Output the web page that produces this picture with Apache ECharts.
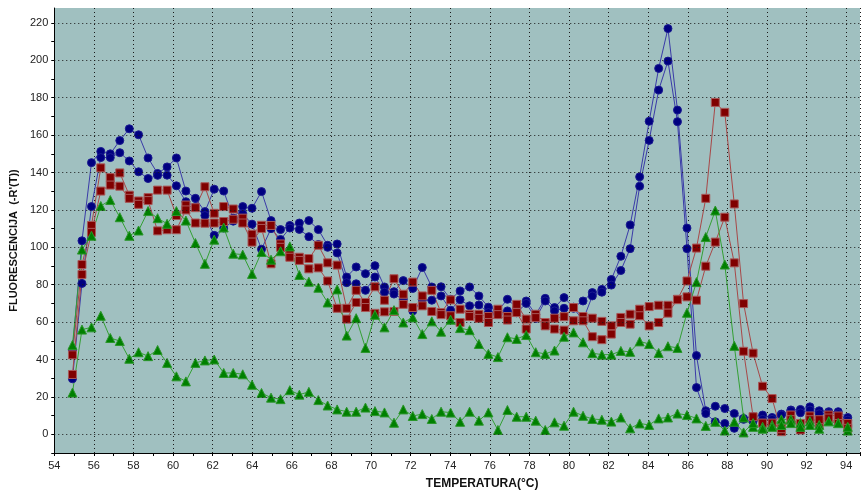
<!DOCTYPE html>
<html><head><meta charset="utf-8">
<script src="https://cdn.jsdelivr.net/npm/echarts@6/dist/echarts.min.js"></script>
<style>html,body{margin:0;padding:0;background:#fff}#c{width:861px;height:495px}</style>
</head><body><div id="c"></div>
<script>
const temps = [54.92,55.40,55.88,56.35,56.83,57.31,57.79,58.26,58.74,59.22,
59.70,60.17,60.65,61.13,61.61,62.08,62.56,63.04,63.52,63.99,
64.47,64.95,65.43,65.90,66.38,66.86,67.34,67.81,68.29,68.77,
69.25,69.72,70.20,70.68,71.16,71.63,72.11,72.59,73.07,73.54,
74.02,74.50,74.98,75.45,75.93,76.41,76.89,77.36,77.84,78.32,
78.80,79.27,79.75,80.23,80.71,81.18,81.66,82.14,82.62,83.09,
83.57,84.05,84.53,85.00,85.48,85.96,86.44,86.91,87.39,87.87,
88.35,88.82,89.30,89.78,90.26,90.73,91.21,91.69,92.17,92.64,
93.12,93.60,94.08];
const blue1 = [44.8,103.5,145.3,151.3,150,157.1,163.4,160.2,147.8,139.5,
143,147.8,130.1,126.2,119.1,131.1,130.1,115.6,121.8,120.9,
129.8,114.3,109.5,111.7,113,114.3,109.5,101.1,101.8,84.1,
89.5,85.9,90.2,78.8,76.3,82.2,78,89.2,78.8,78.9,
72.2,76.7,78.8,74,68,66,72.2,67.8,71.3,64,
72.7,67.8,73.1,68,71.3,75.8,77.5,82.8,95.2,112,
137.7,167.4,195.7,217,173.4,110.3,42.1,12.6,15,13.8,
11.1,8.5,9.4,10.3,9,10.8,13,13.3,14.7,12.6,
12.1,12.1,9];
const blue2 = [29.7,80.7,121.8,148,148,150.6,146.2,140.4,136.8,138.5,
138.6,132.9,124.4,121.8,117,106.4,110.3,114,118,112.4,
99,110,104.2,110.3,109.6,105.7,101.5,100,97,81.1,
80.5,77,84.1,76,75,72.2,66,72,71.7,74,
66.4,72,68.7,69.2,65.1,64,66,65,70,62,
71.3,66,67.4,67.4,61.1,74,76,79.8,87.6,99.3,
132.7,157.2,184.1,199.6,167.2,99.3,25,11.1,6.7,5.8,
3.2,8,7,8,8,10.3,12.6,11.5,13,11,
11.5,11.1,7.6];
const red1 = [42.5,90.8,111.7,142.5,137.3,139.8,127.9,124.8,126.6,130.6,
130.6,117,122.6,121.2,132.4,118.2,121.8,120.5,115.6,107,
111.8,111.7,101.8,96.5,94.7,94,101.1,91.7,90.5,67.4,
77,70.5,78.9,71.7,83.2,74.9,81.4,74,77,65.1,
71.9,66.9,64.2,64.2,63,66.9,63,69.5,61.6,64.2,
59.8,62.1,62.9,67.8,63,62.1,60.4,58,62.5,64.2,
66.9,68.3,69,69,72.2,82,99.6,126.2,177.5,172.2,
123.2,69.9,43.4,25.7,19.1,1.4,10.3,2.3,9.8,5,
10.3,9.8,5.8];
const red2 = [32,85.5,108,130.1,133.3,132.7,126.2,123,125,108.8,
109.4,109.4,120,113,112.9,113,113.8,115,113,102.8,
110.1,91.2,100,94.7,93,88.5,89,82,67.4,61.6,
70.5,67.8,64.7,65.5,65.7,69.5,67.8,68.7,65.7,64,
63.4,59.8,63,62,59.8,64,61.1,65.1,56.3,62.4,
58,56.3,55.7,60.7,60.7,52.2,50.6,53.6,59.8,58.9,
63.4,58,59.8,64.8,72,73.5,71.7,89.9,102.8,116.1,
91.7,44.4,9.4,6,6,3,7.8,5.8,7.8,7.8,
8.7,5.8,3.2];
const green1 = [47.8,98.8,106.2,122.1,125.3,116.1,106.2,109,119.4,115.6,
112.6,119.4,114.3,102.3,91.2,104.1,110.6,96.6,96.1,85.8,
97.5,93.4,97.9,100.5,85.2,81.6,78.4,70.5,77.5,52.8,
62.1,46.2,63.9,57.2,66.4,59.8,62.5,53.6,60.4,54.9,
61.3,56.8,55.7,48.3,43,41.3,51.9,51,53.1,43.9,
43,44.8,52.2,54.5,49.2,43.4,42.6,42.6,44.6,44.1,
49.7,48.3,43.5,47.1,46.2,65,81.4,105.5,119.7,90.8,
47.3,9,4,4,5,8,8,6,7,5,
7,6,2];
const green2 = [22.3,56,57.2,63.4,51.5,49.9,40.4,43.9,41.8,45.1,
38.2,31,28.3,38.2,39.5,40,32.8,32.8,32.1,26.5,
22.1,19.6,18.8,23.6,21.2,22.7,18.3,15.4,13.3,12.1,
12.1,14.3,12.4,11.7,6.2,13.3,9.8,10.8,8.2,12.1,
11.6,6.7,12.1,7.3,11.7,2.3,13,9.4,9.4,7.3,
2.3,6.4,4.6,12.1,9.9,8.2,7.8,6.8,9,3.2,
5.8,5,8.5,9,11.1,10.3,8.5,4.5,6.7,2,
6.7,1,6,3,4,5,6,4,5,3,
7,6,4];
const yGridValues = [0,20,40,60,80,100,120,140,160,180,200,220];

const chart = echarts.init(document.getElementById('c'), null, {renderer:'canvas'});
const font = "'Liberation Sans', Arial, sans-serif";
const dotted = {color:'#1a1a1a', width:1, type:[1,3]};
function mk(arr){ return temps.map((t,i)=>[t, arr[i]]); }
function ser(arr, symbol, size, fill, border, line){
  return {type:'line', data:mk(arr), symbol:symbol, symbolSize:size, showSymbol:true,
    itemStyle:{color:fill, borderColor:border, borderWidth:1, opacity:1},
    lineStyle:{color:line, width:1}, z:3, animation:false, emphasis:{disabled:true}};
}
chart.setOption({
  backgroundColor:'#ffffff',
  animation:false,
  grid:{left:46, right:1, top:8, bottom:38, show:true, backgroundColor:'#a0c0c0', borderWidth:0},
  xAxis:{type:'value', min:54, max:94.7, interval:2,
    name:'TEMPERATURA(°C)', nameLocation:'middle', nameGap:25,
    nameTextStyle:{fontFamily:font, fontWeight:'bold', fontSize:12, color:'#111', padding:[0,0,0,50]},
    axisLine:{show:true, onZero:false, lineStyle:{color:'#000', width:1}},
    axisTick:{show:true, length:3, lineStyle:{color:'#000'}},
    minorTick:{show:true, splitNumber:2, length:3, lineStyle:{color:'#000'}},
    axisLabel:{fontFamily:font, fontSize:11, color:'#222', margin:7, showMaxLabel:false,
      formatter:v=> (Math.abs(v-Math.round(v))<1e-6 && Math.round(v)%2===0) ? String(Math.round(v)) : ''},
    splitLine:{show:true, lineStyle:dotted}
  },
  yAxis:{type:'value', min:-10, max:228, interval:10,
    name:"FLUORESCENCIJA  (-R'(T))", nameLocation:'middle', nameGap:24,
    nameTextStyle:{fontFamily:font, fontWeight:'bold', fontSize:11, color:'#111', padding:[0,20,0,0]},
    axisLine:{show:true, onZero:false, lineStyle:{color:'#000', width:1}},
    axisTick:{show:true, length:3, lineStyle:{color:'#000'}},
    axisLabel:{fontFamily:font, fontSize:11, color:'#222', margin:6, showMaxLabel:false,
      formatter:v=> (v>=0 && v<=220 && Math.abs(v%20)<1e-6) ? String(v) : ''},
    splitLine:{show:false}
  },
  series:[
    {type:'line', data:[], z:1, silent:true,
      markLine:{silent:true, symbol:['none','none'], animation:false, label:{show:false},
        lineStyle:dotted, emphasis:{disabled:true},
        data:yGridValues.map(v=>({yAxis:v}))}},
    ser(blue1,'circle',8,'#000080','#1a1a90','#3a3aa8'),
    ser(blue2,'circle',8,'#000080','#1a1a90','#3a3aa8'),
    ser(red1,'rect',8,'#800000','#a85858','#a84848'),
    ser(red2,'rect',8,'#800000','#a85858','#a84848'),
    ser(green1,'triangle',9,'#008000','#2a962a','#34a034'),
    ser(green2,'triangle',9,'#008000','#2a962a','#34a034')
  ]
});
</script></body></html>
